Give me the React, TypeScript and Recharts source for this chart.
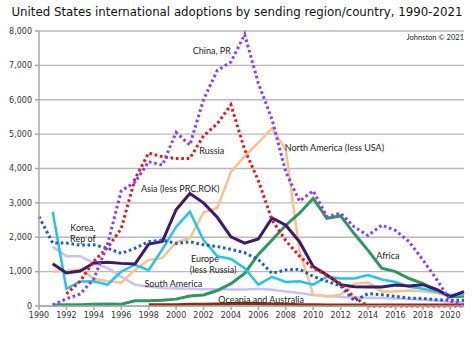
import { LineChart, Line, XAxis, YAxis, CartesianGrid, ReferenceDot } from 'recharts';

const years = [
  1990, 1991, 1992, 1993, 1994, 1995, 1996, 1997, 1998, 1999, 2000, 2001, 2002, 2003, 2004, 2005,
  2006, 2007, 2008, 2009, 2010, 2011, 2012, 2013, 2014, 2015, 2016, 2017, 2018, 2019, 2020, 2021,
];

const china = [
  null, 30, 210, 350, 790, 1800, 3350, 3600, 4200, 4100, 5050, 4680, 6000, 6850, 7100, 7900,
  6480, 5420, 3900, 3050, 3350, 2600, 2700, 2300, 2050, 2350, 2200, 1870, 1340, 780, 150, 20,
];
const russia = [
  null, null, 350, 720, 1300, 1700, 2250, 3700, 4450, 4340, 4290, 4290, 4950, 5300, 5850, 4550,
  3650, 2500, 1900, 1450, 1100, 900, 650, 250, 0, 0, 0, 0, 0, 0, 0, 0,
];
const korea = [
  2600, 1830, 1830, 1770, 1780, 1680, 1530, 1680, 1870, 1920, 1820, 1870, 1780, 1730, 1650, 1550,
  1350, 950, 1050, 1070, 860, 720, 580, 150, 360, 330, 280, 230, 220, 180, 170, 170,
];
const asia = [
  null, 1230, 960, 1020, 1250, 1270, 1240, 1220, 1800, 1880, 2800, 3270, 3000, 2580, 2010, 1830,
  1950, 2560, 2350, 1870, 1150, 900, 620, 560, 550, 550, 610, 580, 620, 480, 270, 420,
];
const europe = [
  null, 2740, 500, 710, 720, 620, 1000, 1200, 1040, 1650, 2300, 2740, 1920, 1450, 1370, 1100,
  620, 850, 700, 720, 620, 850, 800, 800, 900, 770, 700, 560, 500, 420, 320, 320,
];
const northAmerica = [
  null, 1000, 1020, 1060, 800, 720, 680, 1050, 1340, 1400, 1850, 1970, 2720, 2850, 3900, 4350,
  4750, 5170, 4550, 1600, 330, 280, 330, 650, 680, 420, 420, 450, 430, 380, 280, 300,
];
const southAmerica = [
  null, 1720, 1450, 1450, 1250, 1100, 850, 620, 560, 520, 510, 500, 490, 490, 480, 480,
  500, 470, 420, 380, 320, 290, 260, 250, 240, 230, 220, 200, 180, 160, 120, 120,
];
const africa = [
  null, 30, 40, 40, 50, 60, 50, 150, 150, 170, 200, 290, 320, 450, 650, 950,
  1500, 1920, 2350, 2700, 3130, 2550, 2620, 2100, 1620, 1100, 1000, 800, 650, 460, 270, 280,
];
const oceania = [
  null, null, null, null, null, null, null, null, 40, 40, 40, 50, 50, 60, 70, 80,
  70, 60, 50, 40, 40, 30, 30, 30, 30, 30, 30, 30, 30, 30, 30, 30,
];

const yTicks = [0, 1000, 2000, 3000, 4000, 5000, 6000, 7000, 8000];
const xTicks = [1990, 1992, 1994, 1996, 1998, 2000, 2002, 2004, 2006, 2008, 2010, 2012, 2014, 2016, 2018, 2020];

const data = years.map((year, i) => ({
  year,
  china: china[i],
  russia: russia[i],
  korea: korea[i],
  asia: asia[i],
  europe: europe[i],
  northAmerica: northAmerica[i],
  southAmerica: southAmerica[i],
  africa: africa[i],
  oceania: oceania[i],
}));

// annotation text, anchored in data space
const notes = [
  { x: 2002.6, y: 7420, text: 'China, PR', anchor: 'middle' },
  { x: 2002.6, y: 4530, text: 'Russia', anchor: 'middle' },
  { x: 2011.55, y: 4610, text: 'North America (less USA)', anchor: 'middle' },
  { x: 2000.3, y: 3420, text: 'Asia (less PRC,ROK)', anchor: 'middle' },
  { x: 1993.2, y: 2270, text: 'Korea,', anchor: 'middle' },
  { x: 1993.2, y: 1960, text: 'Rep of', anchor: 'middle' },
  { x: 2002.1, y: 1380, text: 'Europe', anchor: 'middle' },
  { x: 2002.7, y: 1070, text: '(less Russia)', anchor: 'middle' },
  { x: 1999.8, y: 660, text: 'South America', anchor: 'middle' },
  { x: 2006.2, y: 190, text: 'Oceania and Australia', anchor: 'middle' },
  { x: 2015.45, y: 1460, text: 'Africa', anchor: 'middle' },
];

const noteFont = 'Lato, "Noto Sans", sans-serif';
const axisFont = '"DejaVu Sans", Verdana, sans-serif';

export default function App() {
  return (
    <div style={{ position: 'absolute', left: 0, top: 0, width: 474, height: 341, background: '#fff' }}>
      <div
        style={{
          position: 'absolute',
          left: 0,
          top: 5,
          width: 474,
          textAlign: 'center',
          fontFamily: axisFont,
          fontSize: 11.8,
          color: '#111',
          whiteSpace: 'nowrap',
        }}
      >
        United States international adoptions by sending region/country, 1990-2021
      </div>
      <LineChart width={474} height={341} data={data} margin={{ top: 31, right: 10, bottom: 15, left: 4 }}>
        <CartesianGrid vertical={false} stroke="#b8b8b8" strokeWidth={1.3} />
        <XAxis
          dataKey="year"
          type="number"
          domain={[1990, 2021]}
          ticks={xTicks}
          interval={0}
          height={20}
          stroke="#a8a8a8"
          strokeWidth={1.5}
          tickSize={4}
          tickMargin={2}
          tick={{ fontSize: 8, fill: '#333', fontFamily: axisFont }}
        />
        <YAxis
          type="number"
          domain={[0, 8000]}
          ticks={yTicks}
          interval={0}
          width={35}
          stroke="#a8a8a8"
          strokeWidth={1.5}
          tickSize={4}
          tickMargin={3}
          tickFormatter={(v: number) => v.toLocaleString('en-US')}
          tick={{ fontSize: 8, fill: '#333', fontFamily: axisFont }}
        />
        <Line dataKey="southAmerica" stroke="#c9bff2" strokeWidth={2.5} dot={false} isAnimationActive={false} />
        <Line dataKey="oceania" stroke="#8e2a10" strokeWidth={3} dot={false} isAnimationActive={false} />
        <Line dataKey="northAmerica" stroke="#f8c18e" strokeWidth={2.5} dot={false} isAnimationActive={false} />
        <Line dataKey="africa" stroke="#2f9660" strokeWidth={3} dot={false} isAnimationActive={false} />
        <Line dataKey="europe" stroke="#22c4ee" strokeWidth={2.5} dot={false} isAnimationActive={false} />
        <Line dataKey="asia" stroke="#3b1a6b" strokeWidth={3} dot={false} isAnimationActive={false} />
        <Line
          dataKey="korea"
          stroke="#1d5cc0"
          strokeWidth={3}
          strokeDasharray="2.6 2.8"
          dot={false}
          isAnimationActive={false}
        />
        <Line
          dataKey="russia"
          stroke="#e8141c"
          strokeWidth={3}
          strokeDasharray="2.6 2.8"
          dot={false}
          isAnimationActive={false}
        />
        <Line
          dataKey="china"
          stroke="#8a3cf0"
          strokeWidth={3}
          strokeDasharray="2.6 2.8"
          dot={false}
          isAnimationActive={false}
        />
        {notes.map((n) => (
          <ReferenceDot
            key={n.text}
            x={n.x}
            y={n.y}
            r={0}
            ifOverflow="visible"
            shape={(p: any) => (
              <text
                x={p.cx}
                y={p.cy}
                textAnchor={n.anchor}
                dominantBaseline="central"
                fontSize={9}
                fontFamily={noteFont}
                fill="#222"
              >
                {n.text}
              </text>
            )}
          />
        ))}
        <ReferenceDot
          x={2021}
          y={7810}
          r={0}
          ifOverflow="visible"
          shape={(p: any) => (
            <text
              x={p.cx}
              y={p.cy}
              textAnchor="end"
              dominantBaseline="central"
              fontSize={7.5}
              fontFamily={noteFont}
              fill="#222"
            >
              Johnston © 2021
            </text>
          )}
        />
      </LineChart>
    </div>
  );
}
